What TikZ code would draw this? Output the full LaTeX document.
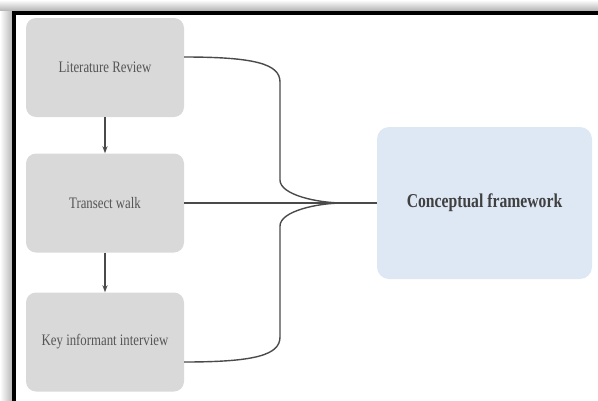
\documentclass[tikz,border=0pt]{standalone}
\usepackage{fontspec}
\setmainfont{Liberation Serif}
\usetikzlibrary{arrows.meta}
\definecolor{stepgray}{HTML}{D9D9D9}
\definecolor{goalblue}{HTML}{DEE8F4}
\definecolor{inkgray}{HTML}{555555}
\definecolor{linegray}{HTML}{4A4A4A}
\tikzset{
  stepbox/.style={fill=stepgray, rounded corners=10pt, minimum width=158pt,
    minimum height=99pt, inner sep=0pt, text=inkgray,
    font=\fontsize{16}{18}\selectfont},
  goalbox/.style={fill=goalblue, rounded corners=12pt, minimum width=215pt,
    minimum height=152pt, inner sep=0pt, text=black!75,
    font=\fontsize{19.6}{22}\selectfont\bfseries},
  link/.style={draw=linegray, line width=1.4pt},
  down/.style={link, -{Stealth[length=7pt,width=5pt]}}
}
\newcommand{\narrow}[1]{\scalebox{0.8}[1]{#1}}
\begin{document}
\begin{tikzpicture}[x=1pt,y=-1pt]
  \useasboundingbox (0,0) rectangle (598,400);
  % frame shadow
  \shade[top color=white, bottom color=black!30] (0,0) rectangle (598,11);
  \shade[left color=white, right color=black!30] (0,11) rectangle (13,400);
  % frame
  \draw[line width=4pt, line cap=rect] (14,400) -- (14,12.5) -- (598,12.5);

  % method steps
  \node[stepbox] (lit) at (105,67.5) {\narrow{Literature Review}};
  \node[stepbox] (walk) at (105,203) {\narrow{Transect walk}};
  \node[stepbox] (kii) at (105,342) {\narrow{Key informant interview}};
  % framework
  \node[goalbox] (cf) at (484.5,203) {\narrow{Conceptual framework}};

  % sequence arrows
  \draw[down] (lit.south) -- (walk.north);
  \draw[down] (walk.south) -- (kii.north);

  % merging connectors
  \coordinate (litout) at ([yshift=10.5pt]lit.east);
  \coordinate (kiiout) at ([yshift=-20pt]kii.east);
  \coordinate (merge) at (343,203);
  \draw[link] (litout) .. controls (255,57) and (280,64) .. (280,82)
    -- (280,180) .. controls (280,195) and (318,203) .. (merge) -- (cf.west);
  \draw[link] (walk.east) -- (cf.west);
  \draw[link] (kiiout) .. controls (255,362) and (280,355) .. (280,337)
    -- (280,226) .. controls (280,211) and (318,203) .. (merge);
\end{tikzpicture}
\end{document}
